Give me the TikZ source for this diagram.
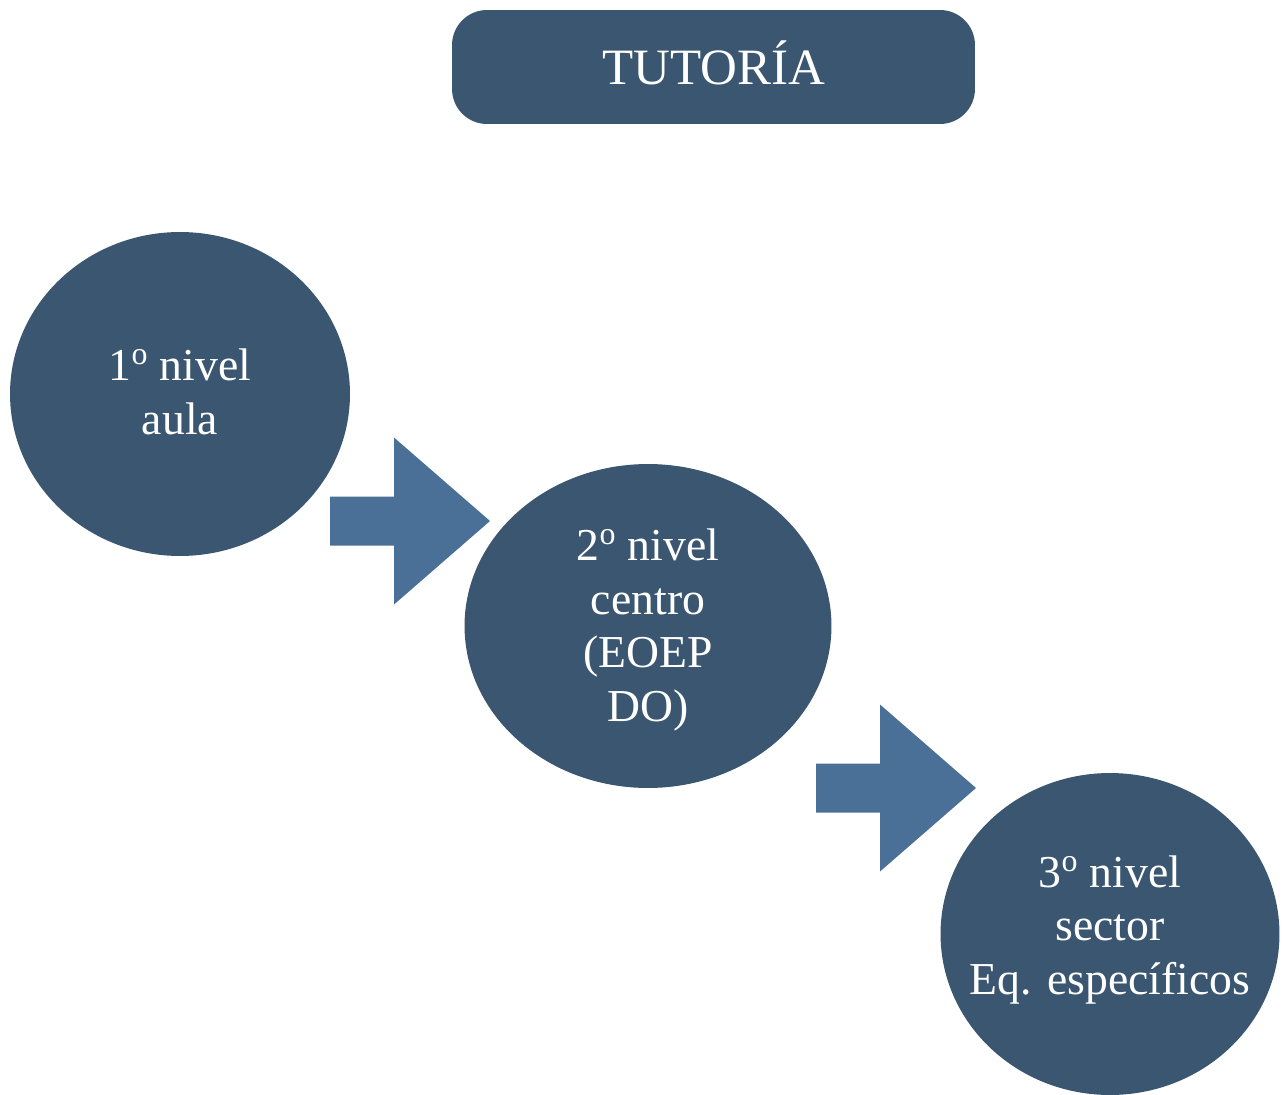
\documentclass[tikz,border=0pt]{standalone}
\usepackage{fontspec}
\setmainfont{Liberation Serif}
\usetikzlibrary{shapes.geometric}
\definecolor{tutfill}{HTML}{3B5670}
\definecolor{arrowfill}{HTML}{4A7098}
\tikzset{
  levelshape/.style={ellipse, fill=tutfill, inner sep=0pt},
  leveltext/.style={text=white, align=center, inner sep=0pt,
    font=\fontsize{26}{30.5}\selectfont},
  titlebox/.style={rectangle, rounded corners=0.7cm, fill=tutfill, text=white,
    minimum width=10.46cm, minimum height=2.28cm, font=\fontsize{29}{32}\selectfont},
  blockarrow/.pic={code={%
      \fill[arrowfill] (0,-24.5) -- (64,-24.5) -- (64,-83.5) -- (160,0)
        -- (64,83.5) -- (64,24.5) -- (0,24.5) -- cycle;
  }}
}
\begin{document}
\begin{tikzpicture}[x=0.02cm, y=-0.02cm]
    \useasboundingbox (0,0) rectangle (1288,1095);

    % title
    \node [titlebox] (tutoria) at (713.5,67) {};
    \node [text=white, font=\fontsize{29}{32}\selectfont] (tutoriatxt) at ([yshift=0.08cm]tutoria.center) {TUTORÍA};

    % levels
    \node [levelshape, minimum width=6.8cm, minimum height=6.48cm] (aula) at (180,394) {};
    \node [levelshape, minimum width=7.34cm, minimum height=6.48cm] (centro) at (648,626) {};
    \node [levelshape, minimum width=6.78cm, minimum height=6.44cm] (sector) at (1110,934) {};

    % arrows between levels
    \path (330,521) pic {blockarrow};
    \path (816,788) pic {blockarrow};

    % add labels
    \node [leveltext] (aulatxt) at ([yshift=0.04cm]aula.center) {1\textsuperscript{o} nivel\\aula};
    \node [leveltext] (centrotxt) at ([yshift=-0.08cm]centro.center) {2\textsuperscript{o} nivel\\centro\\(EOEP\\DO)};
    \node [leveltext] (sectortxt) at ([yshift=0.08cm]sector.center) {3\textsuperscript{o} nivel\\sector\\Eq. específicos};
\end{tikzpicture}
\end{document}
